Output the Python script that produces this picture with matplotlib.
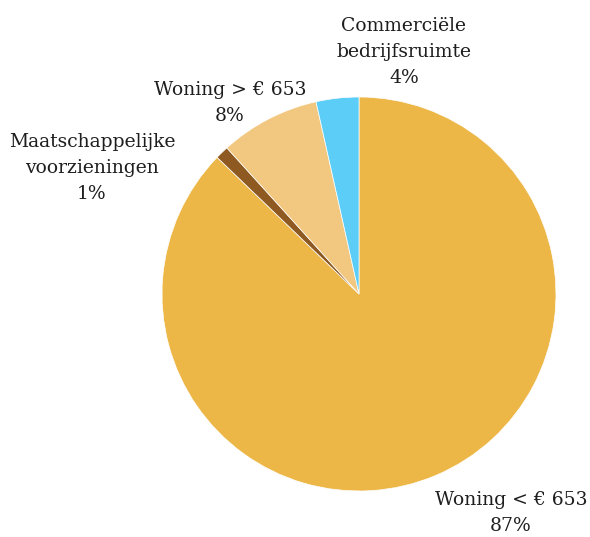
import matplotlib
matplotlib.use("Agg")
import matplotlib.pyplot as plt

categories = ["Woning < € 653", "Maatschappelijke\nvoorzieningen", "Woning > € 653", "Commerciële\nbedrijfsruimte"]
values = [87.2, 1.1, 8.2, 3.5]
pct_labels = ["87%", "1%", "8%", "4%"]
colors = ["#EDB748", "#8E5A22", "#F2C77F", "#5BCDF6"]

W, H = 590, 537
fig = plt.figure(figsize=(W / 100, H / 100), dpi=100)
cx, cy, r = 359, 294, 197
ax = fig.add_axes([(cx - r) / W, (H - cy - r) / H, 2 * r / W, 2 * r / H])
ax.pie(values, colors=colors, startangle=90, counterclock=False, radius=1,
       wedgeprops=dict(edgecolor="white", linewidth=0.5))
ax.set_xlim(-1, 1)
ax.set_ylim(-1, 1)
ax.set_aspect("auto")
ax.axis("off")

# label centres in pixel space -> data space
label_pos = [(511, 513), (92, 168), (230, 103), (404, 52)]
for cat, pct, (px, py) in zip(categories, pct_labels, label_pos):
    ax.text((px - cx) / r, (cy - py) / r, cat + "\n" + pct, ha="center", va="center",
            fontsize=13.5, family="DejaVu Serif", color="#1e1e1e", linespacing=1.55,
            clip_on=False)

fig.savefig("out.png", dpi=100)
